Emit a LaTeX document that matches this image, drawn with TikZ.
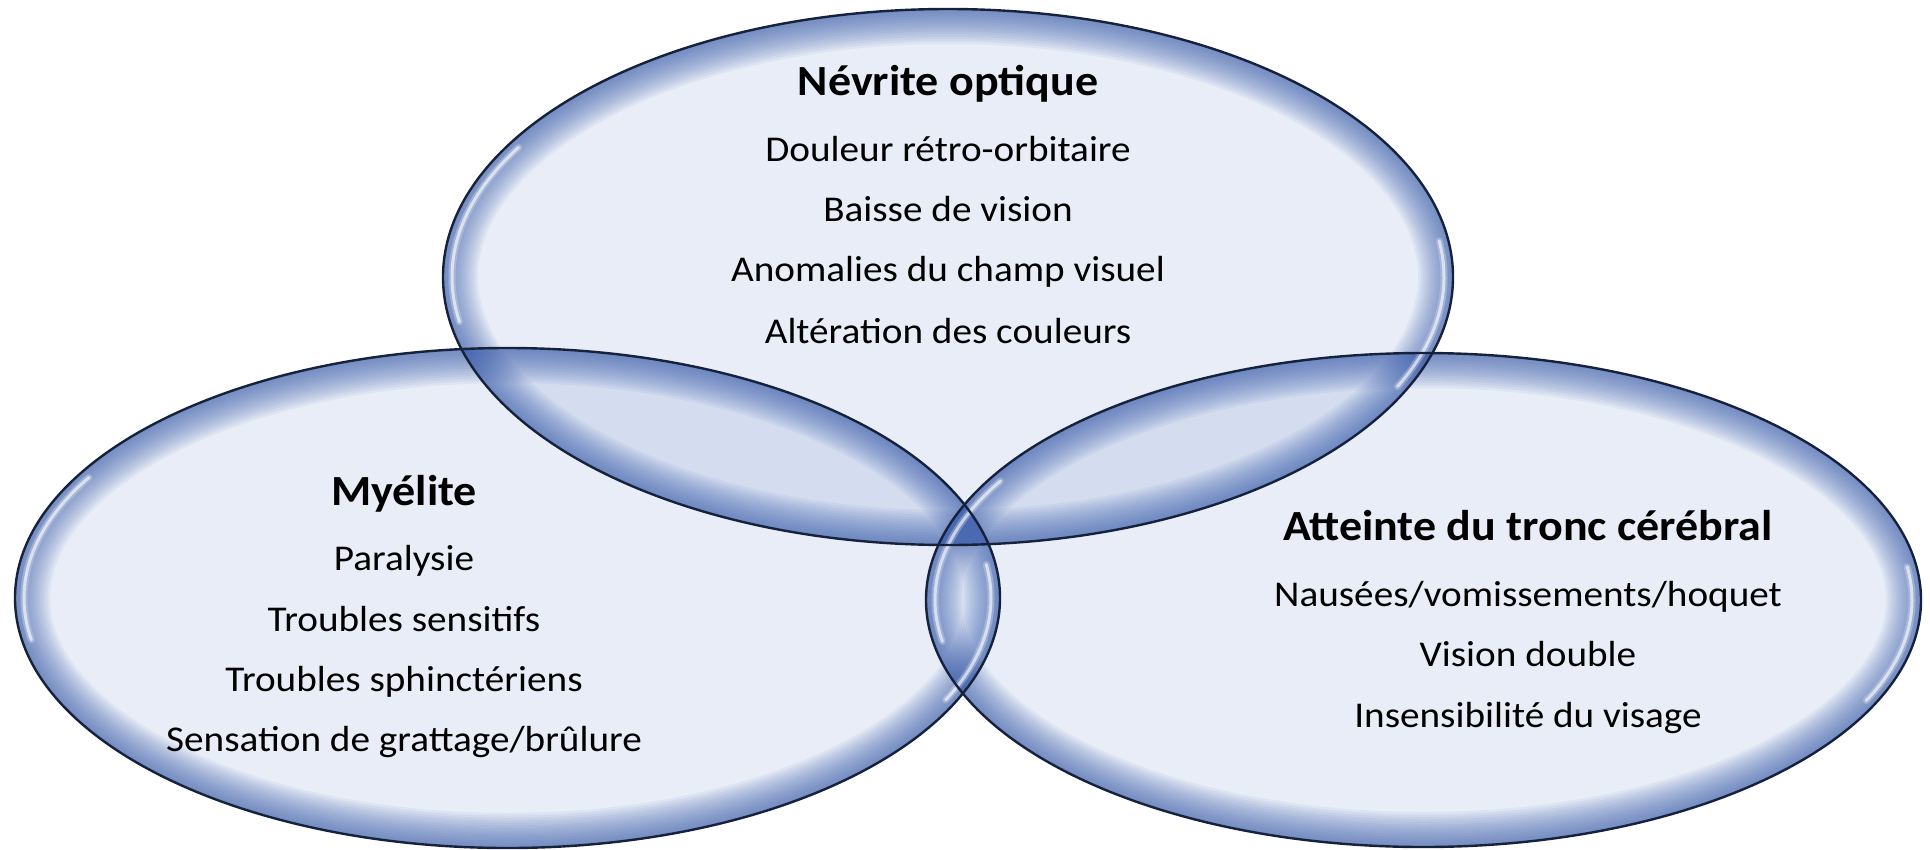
\documentclass[tikz,border=0pt]{standalone}
\usepackage{fontspec}
\setmainfont{Carlito}
\definecolor{fillblue}{RGB}{70,110,190}
\definecolor{glowblue}{RGB}{55,90,170}
\definecolor{edgecol}{RGB}{22,34,60}
\newcommand{\vennfill}[3]{%
  \fill[fillblue, fill opacity=0.12] #1 ellipse [x radius=#2, y radius=#3];
  \begin{scope}
    \clip #1 ellipse [x radius=#2, y radius=#3];
    \foreach \k in {1,...,14} {
      \pgfmathsetmacro\lw{\k*5}
      \draw[glowblue, draw opacity=0.065, line width=\lw pt] #1 ellipse [x radius=#2, y radius=#3];
    }
  \end{scope}
}
% visual angles (counter-clockwise, y up)
\newcommand{\vennshine}[5]{%
  \begin{scope}
    \clip #1 ellipse [x radius=#2, y radius=#3];
    \pgfmathsetmacro\rxi{#2-9}
    \pgfmathsetmacro\ryi{#3-9}
    \draw[white, draw opacity=0.25, line width=7pt, line cap=round] #1 ++(#4:\rxi pt and \ryi pt) arc [start angle=#4, end angle=#5, x radius=\rxi pt, y radius=\ryi pt];
    \draw[white, draw opacity=0.6, line width=3pt, line cap=round] #1 ++(#4:\rxi pt and \ryi pt) arc [start angle=#4, end angle=#5, x radius=\rxi pt, y radius=\ryi pt];
  \end{scope}
}
\tikzset{
  titletext/.style={font=\fontsize{43}{46}\selectfont\bfseries, text=black, inner sep=0pt, anchor=base, xscale=1.07},
  bodytext/.style={font=\fontsize{36.3}{40}\selectfont, text=black, inner sep=0pt, anchor=base, xscale=1.08},
  rim/.style={draw=edgecol, line width=2.4pt}
}
\begin{document}
\begin{tikzpicture}[x=1pt,y=-1pt]
\useasboundingbox[fill=white] (0,0) rectangle (1930,849);
\coordinate (cT) at (948,277);
\coordinate (cL) at (507.5,598);
\coordinate (cR) at (1423.5,600);
\vennfill{(cT)}{505}{268}
\vennfill{(cL)}{492.5}{250}
\vennfill{(cR)}{497.5}{247}
\vennshine{(cT)}{505}{268}{150}{190}
\vennshine{(cT)}{505}{268}{-25}{8}
\vennshine{(cL)}{492.5}{250}{150}{190}
\vennshine{(cL)}{492.5}{250}{-25}{8}
\vennshine{(cR)}{497.5}{247}{150}{190}
\vennshine{(cR)}{497.5}{247}{-25}{8}
\draw[rim] (cT) ellipse [x radius=505, y radius=268];
\draw[rim] (cL) ellipse [x radius=492.5, y radius=250];
\draw[rim] (cR) ellipse [x radius=497.5, y radius=247];

\node[titletext] (nT) at (948,95) {Névrite optique};
\node[bodytext] (nT1) at (948,161) {Douleur rétro-orbitaire};
\node[bodytext] (nT2) at (948,221.7) {Baisse de vision};
\node[bodytext] (nT3) at (948,281.7) {Anomalies du champ visuel};
\node[bodytext] (nT4) at (948,343) {Altération des couleurs};

\node[titletext] (nL) at (404,505) {Myélite};
\node[bodytext] (nL1) at (404,570) {Paralysie};
\node[bodytext] (nL2) at (404,631.7) {Troubles sensitifs};
\node[bodytext] (nL3) at (404,691.7) {Troubles sphinctériens};
\node[bodytext] (nL4) at (404,751.7) {Sensation de grattage/brûlure};

\node[titletext] (nR) at (1528,540) {Atteinte du tronc cérébral};
\node[bodytext] (nR1) at (1528,606) {Nausées/vomissements/hoquet};
\node[bodytext] (nR2) at (1528,666.7) {Vision double};
\node[bodytext] (nR3) at (1528,727) {Insensibilité du visage};
\end{tikzpicture}
\end{document}
